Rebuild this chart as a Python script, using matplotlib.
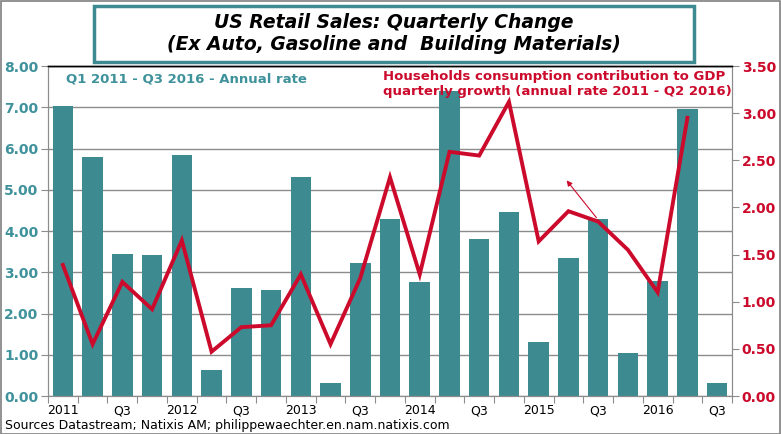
import matplotlib
matplotlib.use("Agg")
import matplotlib.pyplot as plt
from matplotlib.patches import Rectangle
import numpy as np

# ---- data ----
retail_sales = [7.03, 5.80, 3.44, 3.42, 5.85, 0.62, 2.62, 2.57, 5.30, 0.32, 3.22, 4.30,
                2.77, 7.40, 3.80, 4.47, 1.32, 3.35, 4.30, 1.05, 2.79, 6.95, 0.32]
consumption = [1.39, 0.55, 1.21, 0.92, 1.65, 0.47, 0.73, 0.75, 1.29, 0.55, 1.25, 2.32,
               1.29, 2.59, 2.55, 3.12, 1.64, 1.96, 1.85, 1.55, 1.10, 2.95]
tick_labels = ["2011", "Q3", "2012", "Q3", "2013", "Q3", "2014", "Q3", "2015", "Q3", "2016", "Q3"]
left_ticks = [0, 1, 2, 3, 4, 5, 6, 7, 8]
right_ticks = [0, 0.5, 1.0, 1.5, 2.0, 2.5, 3.0, 3.5]

TEAL = "#3D8B91"
TEAL_TXT = "#3F929B"
RED = "#CC0A2C"

W, H = 781, 434
fig = plt.figure(figsize=(W / 100, H / 100), dpi=100)
ax = fig.add_axes([48 / W, 1 - 396 / H, (732 - 48) / W, (396 - 66) / H])
ax2 = ax.twinx()

x = np.arange(len(retail_sales))
ax.bar(x, retail_sales, width=0.69, color=TEAL, zorder=2)
ax.set_xlim(-0.5, len(retail_sales) - 0.5)
ax.set_ylim(0, 8)
ax.set_yticks(left_ticks)
ax.set_yticklabels([f"{v:.2f}" for v in left_ticks])
ax.yaxis.grid(True, color="#8C8C8C", linewidth=1.0, zorder=0)
ax.set_axisbelow(True)

xl = np.arange(len(consumption))
ax2.plot(xl, consumption, color=RED, linewidth=2.8, solid_joinstyle="miter", zorder=3)
ax2.set_ylim(0, 3.5)
ax2.set_yticks(right_ticks)
ax2.set_yticklabels([f"{v:.2f}" for v in right_ticks])

# x ticks at category boundaries, labels at every other category center
ax.set_xticks(np.arange(-0.5, len(retail_sales), 1.0))
ax.set_xticklabels([])
ax.set_xticks(np.arange(0, len(retail_sales), 2), minor=True)
ax.set_xticklabels(tick_labels, minor=True, fontsize=9, family="DejaVu Sans")
ax.tick_params(axis="x", which="major", length=5, color="#8C8C8C", direction="out")
ax.tick_params(axis="x", which="minor", length=0, pad=6)

ax.tick_params(axis="y", length=5, color="#8C8C8C", direction="out", pad=2,
               labelcolor=TEAL_TXT, labelsize=10)
ax2.tick_params(axis="y", length=5, color="#8C8C8C", direction="out", pad=2,
                labelcolor=RED, labelsize=10)
for lab in ax.get_yticklabels():
    lab.set_fontweight("bold")
for lab in ax2.get_yticklabels():
    lab.set_fontweight("bold")

for a in (ax, ax2):
    for s in ("left", "right", "bottom"):
        a.spines[s].set_color("#8C8C8C")
    a.spines["top"].set_color("#000000")
    a.spines["top"].set_linewidth(1.0)

# annotations
ax.text(0.1, 7.68, "Q1 2011 - Q3 2016 - Annual rate", color=TEAL_TXT, fontsize=9.5,
        fontweight="bold", va="center", ha="left", zorder=5)
ax2.text(10.76, 3.46,
         "Households consumption contribution to GDP\nquarterly growth (annual rate 2011 - Q2 2016)",
         color=RED, fontsize=9.5, fontweight="bold", va="top", ha="left",
         linespacing=1.25, zorder=6)
ax2.annotate("", xy=(16.88, 5.28 * 3.5 / 8), xytext=(18.0, 4.27 * 3.5 / 8),
             arrowprops=dict(arrowstyle="-|>", color=RED, lw=0.8, mutation_scale=8),
             zorder=6)

# title box
fig.patches.append(Rectangle((94 / W, 1 - 62 / H), (694 - 94) / W, (62 - 6) / H,
                             transform=fig.transFigure, facecolor="white",
                             edgecolor=TEAL, linewidth=2.5, zorder=10))
fig.text(394 / W, 1 - 22 / H, "US Retail Sales: Quarterly Change", ha="center", va="center",
         fontsize=13.5, fontweight="bold", style="italic", family="DejaVu Sans", zorder=11)
fig.text(394 / W, 1 - 45 / H, "(Ex Auto, Gasoline and  Building Materials)", ha="center",
         va="center", fontsize=13.5, fontweight="bold", style="italic", family="DejaVu Sans", zorder=11)

# sources
fig.text(5 / W, 1 - 426 / H, "Sources Datastream; Natixis AM; philippewaechter.en.nam.natixis.com",
         ha="left", va="center", fontsize=9, family="DejaVu Sans")

# outer frame
fig.patches.append(Rectangle((0.5 / W, 0.5 / H), (W - 1.5) / W, (H - 1.5) / H,
                             transform=fig.transFigure, facecolor="none",
                             edgecolor="#7F7F7F", linewidth=1.2, zorder=20))

fig.savefig("out.png", dpi=100)
